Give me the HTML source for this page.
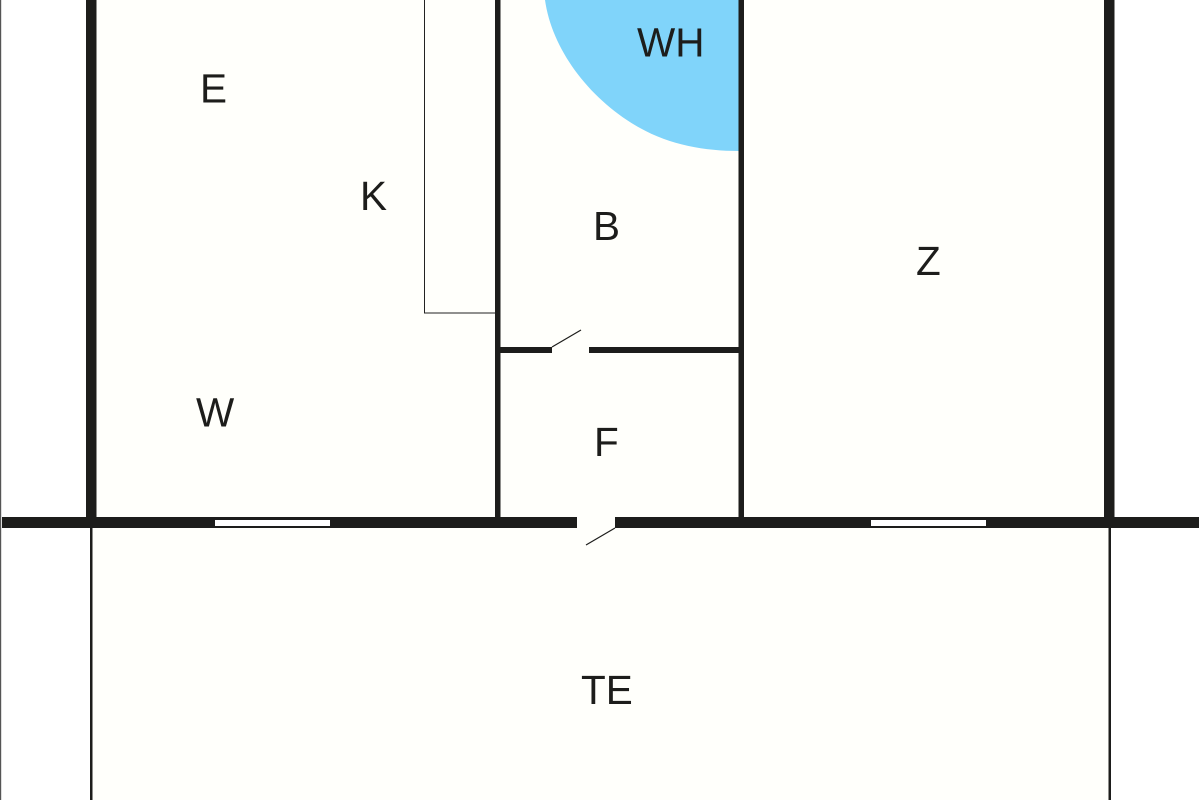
<!DOCTYPE html>
<html><head><meta charset="utf-8"><style>
html,body{margin:0;padding:0;background:#fff;width:1200px;height:800px;overflow:hidden}
svg{display:block}
text{font-family:"Liberation Sans",sans-serif;font-size:40.5px;fill:#1d1d1b}
</style></head><body>
<svg width="1200" height="800" viewBox="0 0 1200 800" xmlns="http://www.w3.org/2000/svg">
<rect width="1200" height="800" fill="#fff"/>
<rect x="91" y="0" width="1018" height="800" fill="#fffffb"/>
<path d="M545 0C552 50 590 100 640 128C670 145 705 151 739 151L739 0Z" fill="#80d4fa"/>
<g fill="#1d1d1b">
<rect x="0" y="0" width="1.2" height="800" fill="#555"/>
<rect x="86" y="0" width="10.5" height="520"/>
<rect x="1104" y="0" width="10.5" height="520"/>
<rect x="495" y="0" width="5.5" height="520"/>
<rect x="738.5" y="0" width="5.5" height="520"/>
<rect x="90" y="525" width="2.5" height="275"/>
<rect x="1108.5" y="525" width="2.5" height="275"/>
<rect x="2" y="517" width="575" height="11"/>
<rect x="615" y="517" width="584" height="11"/>
<rect x="500" y="347" width="52" height="6"/>
<rect x="589" y="347" width="150" height="6"/>
</g>
<rect x="577" y="517" width="38" height="11" fill="#fffffb"/>
<rect x="215" y="520" width="115" height="6" fill="#fff"/>
<rect x="871" y="520" width="115" height="6" fill="#fff"/>
<path d="M424.5 0V313H495" fill="none" stroke="#222" stroke-width="1"/>
<path d="M552 347L581 330" fill="none" stroke="#1d1d1b" stroke-width="1.2"/>
<path d="M615 528L586 545" fill="none" stroke="#1d1d1b" stroke-width="1.2"/>
<text x="200" y="102.5">E</text>
<text x="360" y="210">K</text>
<text x="637" y="56.5">WH</text>
<text x="593" y="240">B</text>
<text x="916" y="275">Z</text>
<text x="196" y="426.5">W</text>
<text x="594" y="456">F</text>
<text x="581" y="704">TE</text>
</svg>
</body></html>
